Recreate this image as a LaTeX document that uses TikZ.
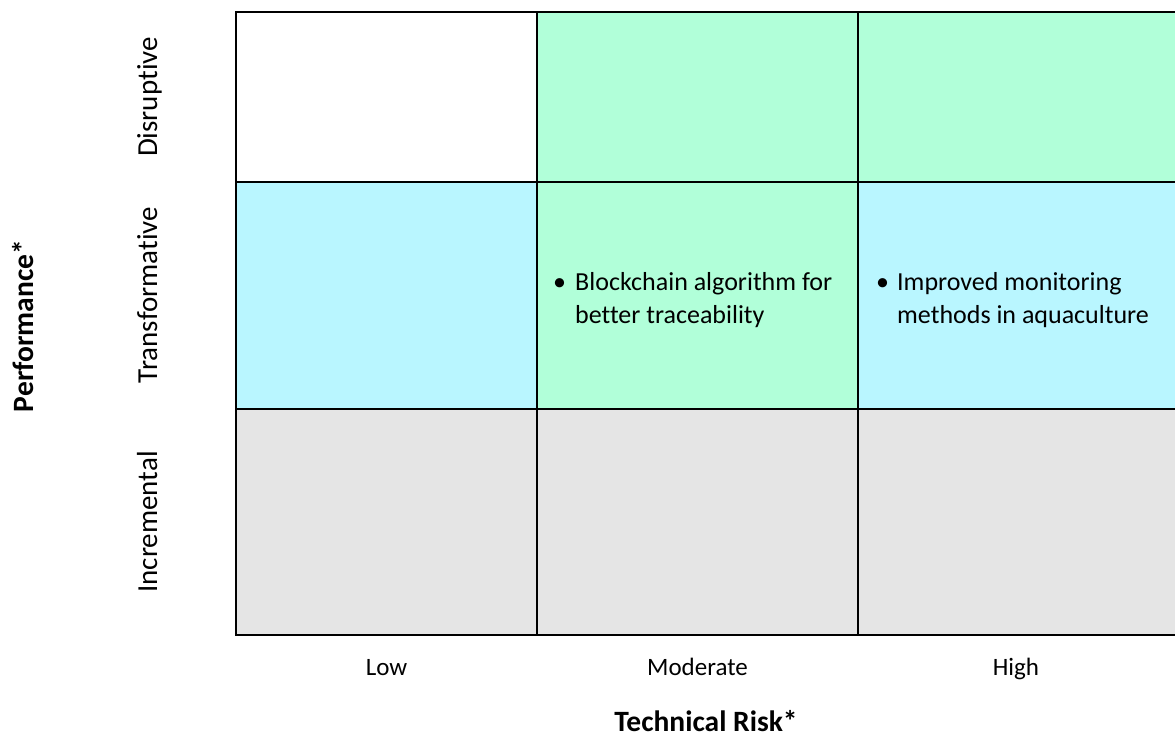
\documentclass[tikz,border=0pt]{standalone}
\usepackage{fontspec}
\setmainfont[Ligatures={NoCommon}]{Carlito}
\definecolor{cellgreen}{HTML}{B1FFD9}
\definecolor{cellcyan}{HTML}{B9F6FF}
\definecolor{cellgray}{HTML}{E5E5E5}
\begin{document}
\begin{tikzpicture}[x=1pt,y=-1pt,
  cell/.style={draw=black, line width=2pt, anchor=north west, inner sep=0pt, outer sep=0pt},
  lbl/.style={font=\fontsize{25}{33}\selectfont, inner sep=0pt},
  rowlbl/.style={font=\fontsize{29}{35}\selectfont, inner sep=0pt, anchor=base, rotate=90},
  axis/.style={font=\fontsize{29.5}{35}\selectfont\bfseries, inner sep=0pt, anchor=base},
  item/.style={font=\fontsize{26}{33}\selectfont, inner sep=0pt, anchor=base west}]
\useasboundingbox (0,0) rectangle (1175,738);
\clip (0,0) rectangle (1175,738);

% matrix cells: columns Low / Moderate / High, rows Disruptive / Transformative / Incremental
\node[cell, fill=white,     minimum width=301, minimum height=170] (c11) at (236,12)  {};
\node[cell, fill=cellgreen, minimum width=321, minimum height=170] (c12) at (537,12)  {};
\node[cell, fill=cellgreen, minimum width=330, minimum height=170] (c13) at (858,12)  {};
\node[cell, fill=cellcyan,  minimum width=301, minimum height=227] (c21) at (236,182) {};
\node[cell, fill=cellgreen, minimum width=321, minimum height=227] (c22) at (537,182) {};
\node[cell, fill=cellcyan,  minimum width=330, minimum height=227] (c23) at (858,182) {};
\node[cell, fill=cellgray,  minimum width=301, minimum height=226] (c31) at (236,409) {};
\node[cell, fill=cellgray,  minimum width=321, minimum height=226] (c32) at (537,409) {};
\node[cell, fill=cellgray,  minimum width=330, minimum height=226] (c33) at (858,409) {};

% cell entries
\node[item] (e22) at (553,290) {\begin{tabular}[t]{@{}l@{}l@{}}\makebox[22pt][l]{\textbullet} & Blockchain algorithm for\\ & better traceability\end{tabular}};
\node[item] (e23) at (876,290) {\begin{tabular}[t]{@{}l@{}l@{}}\makebox[21pt][l]{\textbullet} & Improved monitoring\\ & methods in aquaculture\end{tabular}};

% column labels
\node[lbl, anchor=base] (low)  at (386.5,675) {Low};
\node[lbl, anchor=base] (mod)  at (697.5,675) {Moderate};
\node[lbl, anchor=base] (high) at (1016,675)  {High};
\node[axis] (xaxis) at (706,731) {Technical Risk*};

% row labels
\node[rowlbl] (dis) at (157,97)  {Disruptive};
\node[rowlbl] (tra) at (157,295) {Transformative};
\node[rowlbl] (inc) at (157,522) {Incremental};
\node[axis, rotate=90] (yaxis) at (33,326) {Performance*};
\end{tikzpicture}
\end{document}
